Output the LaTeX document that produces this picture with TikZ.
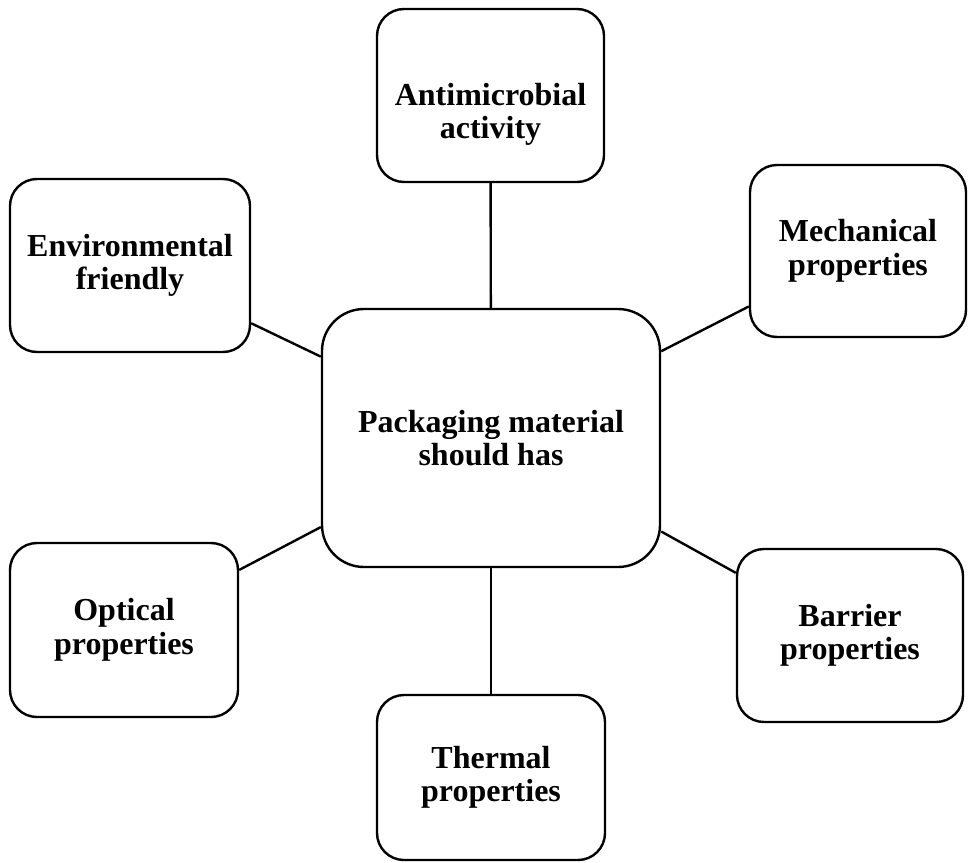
\documentclass[tikz,border=0pt]{standalone}
\usepackage{fontspec}
\setmainfont{Liberation Serif}
\usetikzlibrary{positioning}
\tikzstyle{rbox}=[draw,rectangle,rounded corners=27pt,line width=2.4pt,align=center,inner sep=0pt,font={\fontsize{32}{33.5}\selectfont\bfseries}]
\tikzstyle{bigbox}=[rbox,rounded corners=42pt]
\tikzstyle{txt}=[align=center,inner sep=0pt,font={\fontsize{32}{33.5}\selectfont\bfseries}]

\begin{document}
\begin{tikzpicture}[x=1pt,y=-1pt]
\useasboundingbox (0,0) rectangle (968,862);
\node[bigbox,minimum width=338pt,minimum height=258pt] (P) at (491,438) {Packaging material\\should has};
\node[rbox,minimum width=227pt,minimum height=173pt] (A) at (490.5,95.5) {};
\node[txt] (At) at ([yshift=-19pt]A.center) {Antimicrobial\\activity};
\node[rbox,minimum width=240pt,minimum height=173pt] (E) at (130,265.5) {Environmental\\friendly};
\node[rbox,minimum width=216pt,minimum height=172pt] (M) at (858,251) {Mechanical\\properties};
\node[rbox,minimum width=228pt,minimum height=174pt] (O) at (124,630) {Optical\\properties};
\node[rbox,minimum width=226pt,minimum height=173pt] (B) at (850,635.5) {Barrier\\properties};
\node[rbox,minimum width=228pt,minimum height=165pt] (T) at (491,777.5) {Thermal\\properties};
\path[line width=2.4pt]
(P) edge (A)
(P) edge (E)
(P) edge (M)
(P) edge (O)
(P) edge (B)
(P) edge (T);
\end{tikzpicture}
\end{document}
